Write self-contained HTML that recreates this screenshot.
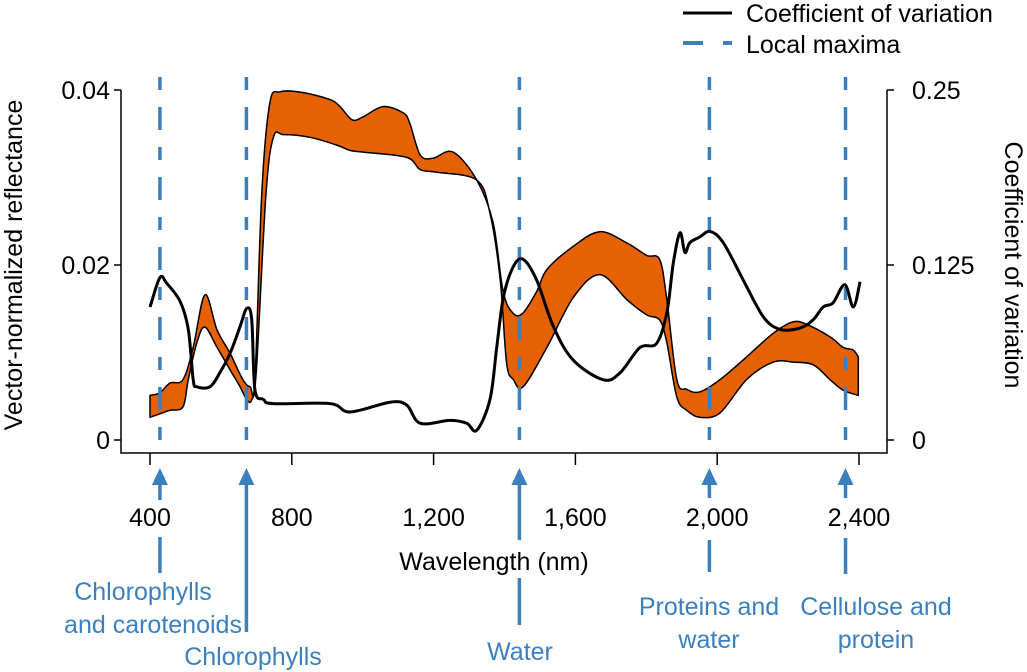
<!DOCTYPE html>
<html><head><meta charset="utf-8"><style>
html,body{margin:0;padding:0;background:#fff}
svg{display:block;font-family:"Liberation Sans",Arial,sans-serif}
</style></head><body>
<svg id="chart" width="1027" height="672" viewBox="0 0 1027 672">
<g id="plot"></g>
<g id="axes"></g>
<g id="legend">
  <line x1="683" y1="13" x2="732" y2="13" stroke="#000" stroke-width="3"/>
  <text x="746" y="22" font-size="25">Coefficient of variation</text>
  <line x1="683" y1="43" x2="732" y2="43" stroke="#3b7fbf" stroke-width="4" stroke-dasharray="20 20"/>
  <text x="746" y="53" font-size="25">Local maxima</text>
</g>
</svg>
<script>
const xTicks=[400,800,1200,1600,2000,2400];
const xTickLabels=["400","800","1,200","1,600","2,000","2,400"];
const yLeftTicks=[0,0.02,0.04];
const yLeftLabels=["0","0.02","0.04"];
const yRightTicks=[0,0.125,0.25];
const yRightLabels=["0","0.125","0.25"];
const upperWl=[400,428,456,493,522,555,589,626,662,682,696,715,738,767,832,908,936,970,1000,1057,1114,1133,1162,1198,1255,1322,1368,1396,1424,1452,1491,1520,1593,1669,1746,1801,1838,1858,1886,1914,1951,2008,2083,2158,2214,2253,2318,2355,2383,2398];
const upperVal=[0.0051,0.0054,0.0065,0.0069,0.0106,0.0166,0.0126,0.0099,0.0069,0.0061,0.0069,0.0280,0.0385,0.0398,0.0397,0.0389,0.0381,0.0366,0.0369,0.0381,0.0374,0.0362,0.0326,0.0322,0.0329,0.0297,0.0248,0.017,0.0145,0.0145,0.017,0.0195,0.0221,0.0238,0.0225,0.0211,0.0206,0.016,0.0069,0.0058,0.0055,0.0069,0.0095,0.0122,0.0135,0.0132,0.0118,0.0106,0.0103,0.0095];
const lowerWl=[400,428,456,493,508,532,555,589,626,654,673,687,700,727,748,777,851,927,964,1002,1124,1162,1209,1322,1359,1388,1406,1425,1453,1520,1594,1669,1746,1801,1838,1858,1886,1914,1951,2008,2083,2158,2214,2271,2318,2355,2398];
const lowerVal=[0.0026,0.0030,0.0034,0.0038,0.0069,0.0111,0.0129,0.0106,0.0080,0.0061,0.0046,0.0046,0.0080,0.0280,0.0346,0.0349,0.0346,0.0337,0.0331,0.0329,0.0323,0.0309,0.0306,0.0297,0.0259,0.0183,0.0088,0.0069,0.0061,0.0106,0.0163,0.0189,0.0160,0.0143,0.0137,0.0111,0.0049,0.0034,0.0026,0.0031,0.0069,0.0089,0.0089,0.0086,0.0069,0.0057,0.0051];
const cvWl=[400,428,447,485,508,522,532,569,597,626,654,673,687,696,720,748,908,964,1077,1124,1162,1246,1293,1322,1359,1378,1397,1425,1453,1491,1538,1594,1679,1726,1782,1829,1858,1876,1895,1909,1923,1951,1980,2017,2074,2130,2177,2234,2271,2299,2327,2360,2384,2403];
const cvVal=[0.095,0.116,0.112,0.099,0.079,0.043,0.038,0.038,0.048,0.062,0.081,0.094,0.086,0.036,0.029,0.026,0.026,0.020,0.027,0.025,0.012,0.014,0.012,0.007,0.029,0.066,0.102,0.124,0.129,0.114,0.081,0.057,0.043,0.048,0.066,0.069,0.091,0.126,0.148,0.134,0.141,0.145,0.149,0.141,0.114,0.088,0.079,0.080,0.086,0.095,0.098,0.111,0.095,0.113];
const maximaWl=[428,672,1442,1978,2362];
const maximaLabels=[["Chlorophylls","and carotenoids"],["Chlorophylls"],["Water"],["Proteins and","water"],["Cellulose and","protein"]];

const NS="http://www.w3.org/2000/svg";
const X=nm=>150+(nm-400)*0.3545;
const YL=v=>440-v*8750;
const YR=v=>440-v*1400;
function mk(tag,attrs,parent,txt){const e=document.createElementNS(NS,tag);for(const k in attrs)e.setAttribute(k,attrs[k]);if(txt!==undefined)e.textContent=txt;parent.appendChild(e);return e;}
function smooth(pts){let d="M"+pts[0][0].toFixed(1)+","+pts[0][1].toFixed(1);
 for(let i=0;i<pts.length-1;i++){const p0=pts[Math.max(0,i-1)],p1=pts[i],p2=pts[i+1],p3=pts[Math.min(pts.length-1,i+2)];
  const c1=[p1[0]+(p2[0]-p0[0])/6,p1[1]+(p2[1]-p0[1])/6],c2=[p2[0]-(p3[0]-p1[0])/6,p2[1]-(p3[1]-p1[1])/6];
  d+="C"+c1[0].toFixed(1)+","+c1[1].toFixed(1)+" "+c2[0].toFixed(1)+","+c2[1].toFixed(1)+" "+p2[0].toFixed(1)+","+p2[1].toFixed(1);}
 return d;}
const plot=document.getElementById('plot'),axes=document.getElementById('axes');
const up=upperWl.map((w,i)=>[X(w),YL(upperVal[i])]);
const lo=lowerWl.map((w,i)=>[X(w),YL(lowerVal[i])]);
const band=mk('path',{d:smooth(up)+"L"+smooth(lo.slice().reverse()).slice(1)+"Z",fill:"#e66101",stroke:"#000","stroke-width":1.5,"stroke-linejoin":"round"},plot);


maximaWl.forEach((w,i)=>{const l=mk('line',{x1:X(w),y1:77,x2:X(w),y2:453,stroke:"#3b7fbf","stroke-width":3.5,"stroke-dasharray":"13 17 23 17"},plot);
 
 });
const cv=mk('path',{d:smooth(cvWl.map((w,i)=>[X(w),YR(cvVal[i])])),fill:"none",stroke:"#000","stroke-width":3,"stroke-linejoin":"round"},plot);


mk('path',{d:"M121,90V453H887V90",fill:"none",stroke:"#000","stroke-width":1.5},axes);
xTicks.forEach((t,i)=>{mk('line',{x1:X(t),y1:453,x2:X(t),y2:465,stroke:"#000","stroke-width":1.5},axes);
 const tx=mk('text',{x:X(t),y:526,"font-size":25,"text-anchor":"middle"},axes,xTickLabels[i]);
 
 });
yLeftTicks.forEach((t,i)=>{mk('line',{x1:114,y1:YL(t),x2:121,y2:YL(t),stroke:"#000","stroke-width":1.5},axes);
 const tx=mk('text',{x:110,y:YL(t)+9,"font-size":25,"text-anchor":"end"},axes,yLeftLabels[i]);
 
 });
yRightTicks.forEach((t,i)=>{mk('line',{x1:887,y1:YR(t),x2:894,y2:YR(t),stroke:"#000","stroke-width":1.5},axes);
 const tx=mk('text',{x:912,y:YR(t)+9,"font-size":25},axes,yRightLabels[i]);
 
 });
const xt=mk('text',{x:494,y:570,"font-size":25,"text-anchor":"middle"},axes,"Wavelength (nm)");


const yt=mk('text',{x:0,y:0,"font-size":25,"text-anchor":"middle",transform:"translate(22,265) rotate(-90)"},axes,"Vector-normalized reflectance");


const yr=mk('text',{x:0,y:0,"font-size":25,"text-anchor":"middle",transform:"translate(1005,265) rotate(90)"},axes,"Coefficient of variation");


const segs=[[[497,500],[537,573]],[[497,632]],[[497,540],[578,625]],[[497,498],[540,572]],[[497,498],[538,574]]];
const labelY=[[600,633],[665],[660],[615,648],[615,648]];
const labelX=[[143,153],[253],[520],[709,709],[876,876]];
maximaWl.forEach((w,i)=>{const x=X(w);
 const ar=mk('path',{d:`M${x},468L${x-8},485H${x+8}Z`,fill:"#3b7fbf"},axes);
 
 
 segs[i].forEach((s,j)=>mk('line',{x1:x,y1:j==0?484:s[0],x2:x,y2:s[1],stroke:"#3b7fbf","stroke-width":3.5},axes));
 maximaLabels[i].forEach((t,j)=>{const tx=mk('text',{x:labelX[i][j],y:labelY[i][j],"font-size":25,fill:"#3b7fbf","text-anchor":"middle"},axes,t);
  
  });});
</script>
</body></html>
